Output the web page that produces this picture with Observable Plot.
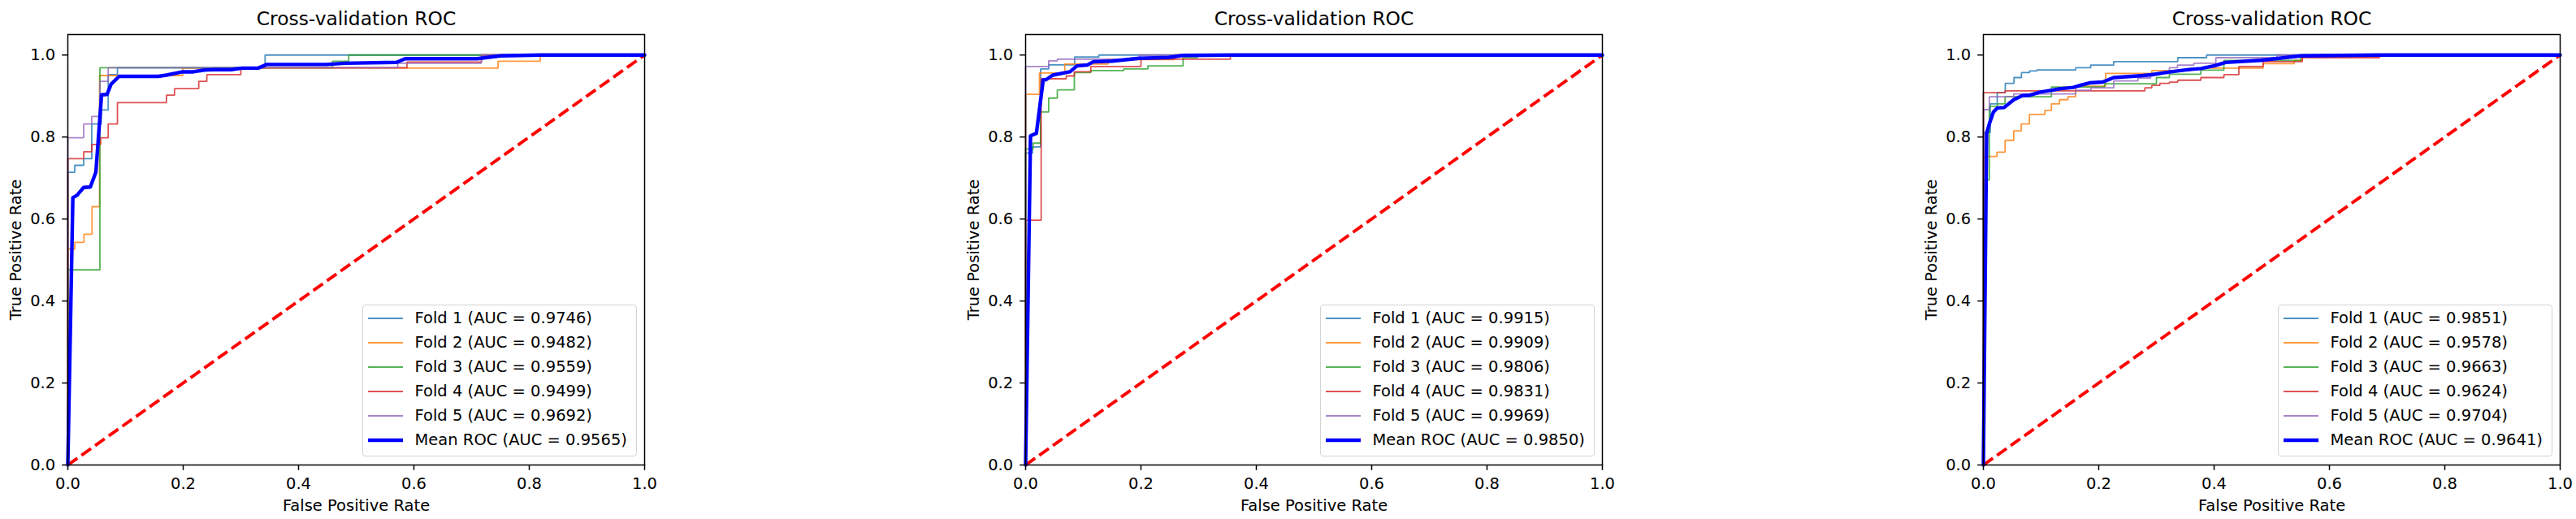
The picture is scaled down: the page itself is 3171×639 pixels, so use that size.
<!DOCTYPE html>
<html>
<head>
<meta charset="utf-8">
<script src="https://cdn.jsdelivr.net/npm/d3@7"></script>
<script src="https://cdn.jsdelivr.net/npm/@observablehq/plot@0.6"></script>
<style>
  html, body { margin: 0; padding: 0; background: #fff; overflow: hidden; }
  #root { position: relative; width: 3171px; height: 639px; font-family: "DejaVu Sans", sans-serif; }
  .panel { position: absolute; top: 0; width: 813px; height: 639px; }
  .legend { position: absolute; left: 446px; top: 375px; width: 338px; height: 187px; box-sizing: border-box;
            border: 1.5px solid #d4d4d4; border-radius: 4px; background: rgba(255,255,255,0.8); padding: 1px 0 0 6px; }
  .row { height: 30px; display: flex; align-items: center; }
  .row svg { flex: none; margin-right: 14.5px; }
  .row span { font-size: 19.5px; line-height: 30px; color: #000; white-space: nowrap; }
</style>
</head>
<body>
<div id="root"></div>
<script>
// ---------- data ----------
const titleText = "Cross-validation ROC";
const xLabel = "False Positive Rate";
const yLabel = "True Positive Rate";
const xTicks = [0, 0.2, 0.4, 0.6, 0.8, 1.0];
const yTicks = [0, 0.2, 0.4, 0.6, 0.8, 1.0];
const foldNames = ["Fold 1", "Fold 2", "Fold 3", "Fold 4", "Fold 5"];
const meanName = "Mean ROC";
const chanceLine = [0, 1];

// Panel 1
const p1Fold1 = [[0,0],[0,0.714],[0.012,0.731],[0.0275,0.747],[0.0415,0.832],[0.058,0.866],[0.07,0.952],[0.086,0.969],[0.342,1.0],[1,1]];
const p1Fold2 = [[0,0],[0,0.527],[0.012,0.543],[0.028,0.563],[0.042,0.63],[0.055,0.95],[0.199,0.968],[0.746,0.985],[0.819,1.0],[1,1]];
const p1Fold3 = [[0,0],[0,0.476],[0.0556,0.969],[0.459,0.985],[0.487,1.0],[1,1]];
const p1Fold4 = [[0,0],[0,0.747],[0.0275,0.764],[0.0415,0.782],[0.057,0.798],[0.07,0.832],[0.086,0.884],[0.171,0.902],[0.185,0.918],[0.227,0.936],[0.241,0.952],[0.30,0.969],[0.588,0.983],[0.717,1.0],[1,1]];
const p1Fold5 = [[0,0],[0,0.798],[0.0275,0.832],[0.0415,0.85],[0.0556,0.936],[0.07,0.969],[0.572,0.98],[0.717,1.0],[1,1]];
const p1Mean = [[0,0],[0.0087,0.652],[0.016,0.658],[0.0275,0.677],[0.039,0.678],[0.0486,0.714],[0.0585,0.903],[0.068,0.904],[0.075,0.929],[0.089,0.948],[0.157,0.948],[0.171,0.951],[0.199,0.959],[0.2176,0.959],[0.236,0.9633],[0.255,0.9643],[0.283,0.9643],[0.302,0.968],[0.33,0.968],[0.345,0.977],[0.448,0.977],[0.48,0.98],[0.57,0.982],[0.585,0.991],[0.71,0.991],[0.75,0.998],[0.82,1.0],[1,1]];
const p1Auc = [0.9746, 0.9482, 0.9559, 0.9499, 0.9692];
const p1MeanAuc = 0.9565;

// Panel 2
const p2Fold1 = [[0,0],[0,0.761],[0.012,0.776],[0.026,0.966],[0.04,0.976],[0.085,0.995],[0.127,1.0],[1,1]];
const p2Fold2 = [[0,0],[0,0.904],[0.024,0.956],[0.068,0.978],[0.143,0.989],[0.258,1.0],[1,1]];
const p2Fold3 = [[0,0],[0,0.771],[0.013,0.785],[0.026,0.861],[0.04,0.895],[0.055,0.915],[0.0845,0.957],[0.113,0.962],[0.17,0.966],[0.212,0.9735],[0.273,0.994],[0.298,1.0],[1,1]];
const p2Fold4 = [[0,0],[0,0.597],[0.027,0.942],[0.0704,0.949],[0.0845,0.959],[0.113,0.972],[0.2,0.99],[0.355,1.0],[1,1]];
const p2Fold5 = [[0,0],[0,0.972],[0.04,0.986],[0.055,0.99],[0.198,1.0],[1,1]];
const p2Mean = [[0,0],[0.0085,0.803],[0.0187,0.809],[0.0305,0.939],[0.0357,0.94],[0.047,0.951],[0.0657,0.956],[0.077,0.959],[0.089,0.9735],[0.107,0.9756],[0.117,0.9835],[0.15,0.985],[0.197,0.992],[0.248,0.994],[0.272,0.999],[0.36,1.0],[1,1]];
const p2Auc = [0.9915, 0.9909, 0.9806, 0.9831, 0.9969];
const p2MeanAuc = 0.9850;

// Panel 3
const p3Fold1 = [[0,0],[0,0.811],[0.012,0.881],[0.024,0.908],[0.038,0.931],[0.053,0.945],[0.066,0.957],[0.08,0.961],[0.0925,0.9635],[0.16,0.969],[0.186,0.9756],[0.226,0.984],[0.337,0.9935],[0.387,1.0],[1,1]];
const p3Fold2 = [[0,0],[0,0.7525],[0.0235,0.763],[0.0376,0.792],[0.0526,0.815],[0.0657,0.832],[0.0798,0.855],[0.1066,0.865],[0.118,0.881],[0.132,0.891],[0.1465,0.898],[0.16,0.924],[0.212,0.955],[0.292,0.962],[0.36,0.968],[0.485,0.979],[0.539,0.987],[0.553,1.0],[1,1]];
const p3Fold3 = [[0,0],[0,0.695],[0.0103,0.875],[0.0244,0.881],[0.0376,0.898],[0.118,0.922],[0.21,0.93],[0.3,0.945],[0.3225,0.953],[0.377,0.963],[0.417,0.987],[0.55,1.0],[1,1]];
const p3Fold4 = [[0,0],[0,0.908],[0.0376,0.9125],[0.28,0.92],[0.292,0.926],[0.306,0.931],[0.3225,0.934],[0.337,0.9386],[0.377,0.945],[0.417,0.952],[0.443,0.972],[0.485,0.984],[0.553,0.9935],[0.687,1.0],[1,1]];
const p3Fold5 = [[0,0],[0,0.8667],[0.0103,0.898],[0.0526,0.905],[0.16,0.914],[0.1864,0.92],[0.226,0.937],[0.268,0.944],[0.29,0.955],[0.3225,0.969],[0.3366,0.9756],[0.365,0.98],[0.403,0.9935],[0.509,1.0],[1,1]];
const p3Mean = [[0,0],[0.0056,0.809],[0.0103,0.832],[0.0174,0.861],[0.0244,0.871],[0.036,0.872],[0.0526,0.891],[0.0676,0.901],[0.0808,0.902],[0.0986,0.9097],[0.118,0.914],[0.132,0.9176],[0.156,0.921],[0.17,0.927],[0.184,0.932],[0.207,0.934],[0.226,0.945],[0.268,0.949],[0.292,0.952],[0.315,0.957],[0.339,0.9617],[0.36,0.965],[0.377,0.967],[0.401,0.974],[0.42,0.982],[0.481,0.987],[0.551,0.998],[0.687,1.0],[1,1]];
const p3Auc = [0.9851, 0.9578, 0.9663, 0.9624, 0.9704];
const p3MeanAuc = 0.9641;

// ---------- styling ----------
const FOLD_COLORS = ["#1f77b4", "#ff7f0e", "#2ca02c", "#d62728", "#9467bd"];
const MEAN_COLOR = "#0000ff";
const FONT = 19.5;

function makePanel(folds, mean, aucs, meanAuc, left) {
  const fmt = d => d.toFixed(1);
  const plot = Plot.plot({
    width: 813, height: 639,
    marginLeft: 83, marginRight: 20, marginTop: 42, marginBottom: 67,
    x: {domain: [0, 1]},
    y: {domain: [0, 1.05]},
    style: {fontFamily: "DejaVu Sans", fontSize: FONT + "px", color: "#000", background: "#fff", overflow: "visible"},
    marks: [
      ...folds.map((f, i) => Plot.line(f, {x: d => d[0], y: d => d[1], curve: "step-after",
        stroke: FOLD_COLORS[i], strokeWidth: 1.8, strokeOpacity: 0.8, strokeLinejoin: "miter", strokeLinecap: "butt"})),
      Plot.line(chanceLine, {x: d => d, y: d => d, stroke: "#ff0000", strokeWidth: 3.9,
        strokeDasharray: "14.4 6.2", strokeLinecap: "butt"}),
      Plot.line(mean, {x: d => d[0], y: d => d[1], stroke: MEAN_COLOR, strokeWidth: 4.4}),
      Plot.axisX({ticks: xTicks, tickFormat: fmt, tickSize: 6.8, tickPadding: 9, fontSize: FONT,
        label: null, stroke: "#000", strokeWidth: 1.5}),
      Plot.axisY({ticks: yTicks, tickFormat: fmt, tickSize: 6.8, tickPadding: 8.5, fontSize: FONT,
        label: null, stroke: "#000", strokeWidth: 1.5}),
      Plot.frame({stroke: "#000", strokeWidth: 1.5}),
      Plot.text([titleText], {text: d => d, frameAnchor: "top", dy: -12, lineAnchor: "bottom", fontSize: 23.4}),
      Plot.text([xLabel], {text: d => d, frameAnchor: "bottom", dy: 56, lineAnchor: "bottom", fontSize: FONT}),
      Plot.text([yLabel], {text: d => d, frameAnchor: "left", dx: -57.5, rotate: -90, lineAnchor: "bottom",
        textAnchor: "middle", fontSize: FONT})
    ]
  });
  const wrap = document.createElement("div");
  wrap.className = "panel";
  wrap.style.left = left + "px";
  wrap.appendChild(plot);

  const legend = document.createElement("div");
  legend.className = "legend";
  const entries = aucs.map((a, i) => ({label: `${foldNames[i]} (AUC = ${a.toFixed(4)})`, color: FOLD_COLORS[i], w: 1.9, o: 0.8}));
  entries.push({label: `${meanName} (AUC = ${meanAuc.toFixed(4)})`, color: MEAN_COLOR, w: 4.4, o: 1});
  for (const e of entries) {
    const row = document.createElement("div");
    row.className = "row";
    row.innerHTML = `<svg width="43" height="10"><line x1="0" x2="43" y1="5" y2="5" stroke="${e.color}" stroke-width="${e.w}" stroke-opacity="${e.o}"/></svg><span>${e.label}</span>`;
    legend.appendChild(row);
  }
  wrap.appendChild(legend);
  return wrap;
}

const root = document.getElementById("root");
root.appendChild(makePanel([p1Fold1, p1Fold2, p1Fold3, p1Fold4, p1Fold5], p1Mean, p1Auc, p1MeanAuc, 0));
root.appendChild(makePanel([p2Fold1, p2Fold2, p2Fold3, p2Fold4, p2Fold5], p2Mean, p2Auc, p2MeanAuc, 1179));
root.appendChild(makePanel([p3Fold1, p3Fold2, p3Fold3, p3Fold4, p3Fold5], p3Mean, p3Auc, p3MeanAuc, 2358));
</script>
</body>
</html>
